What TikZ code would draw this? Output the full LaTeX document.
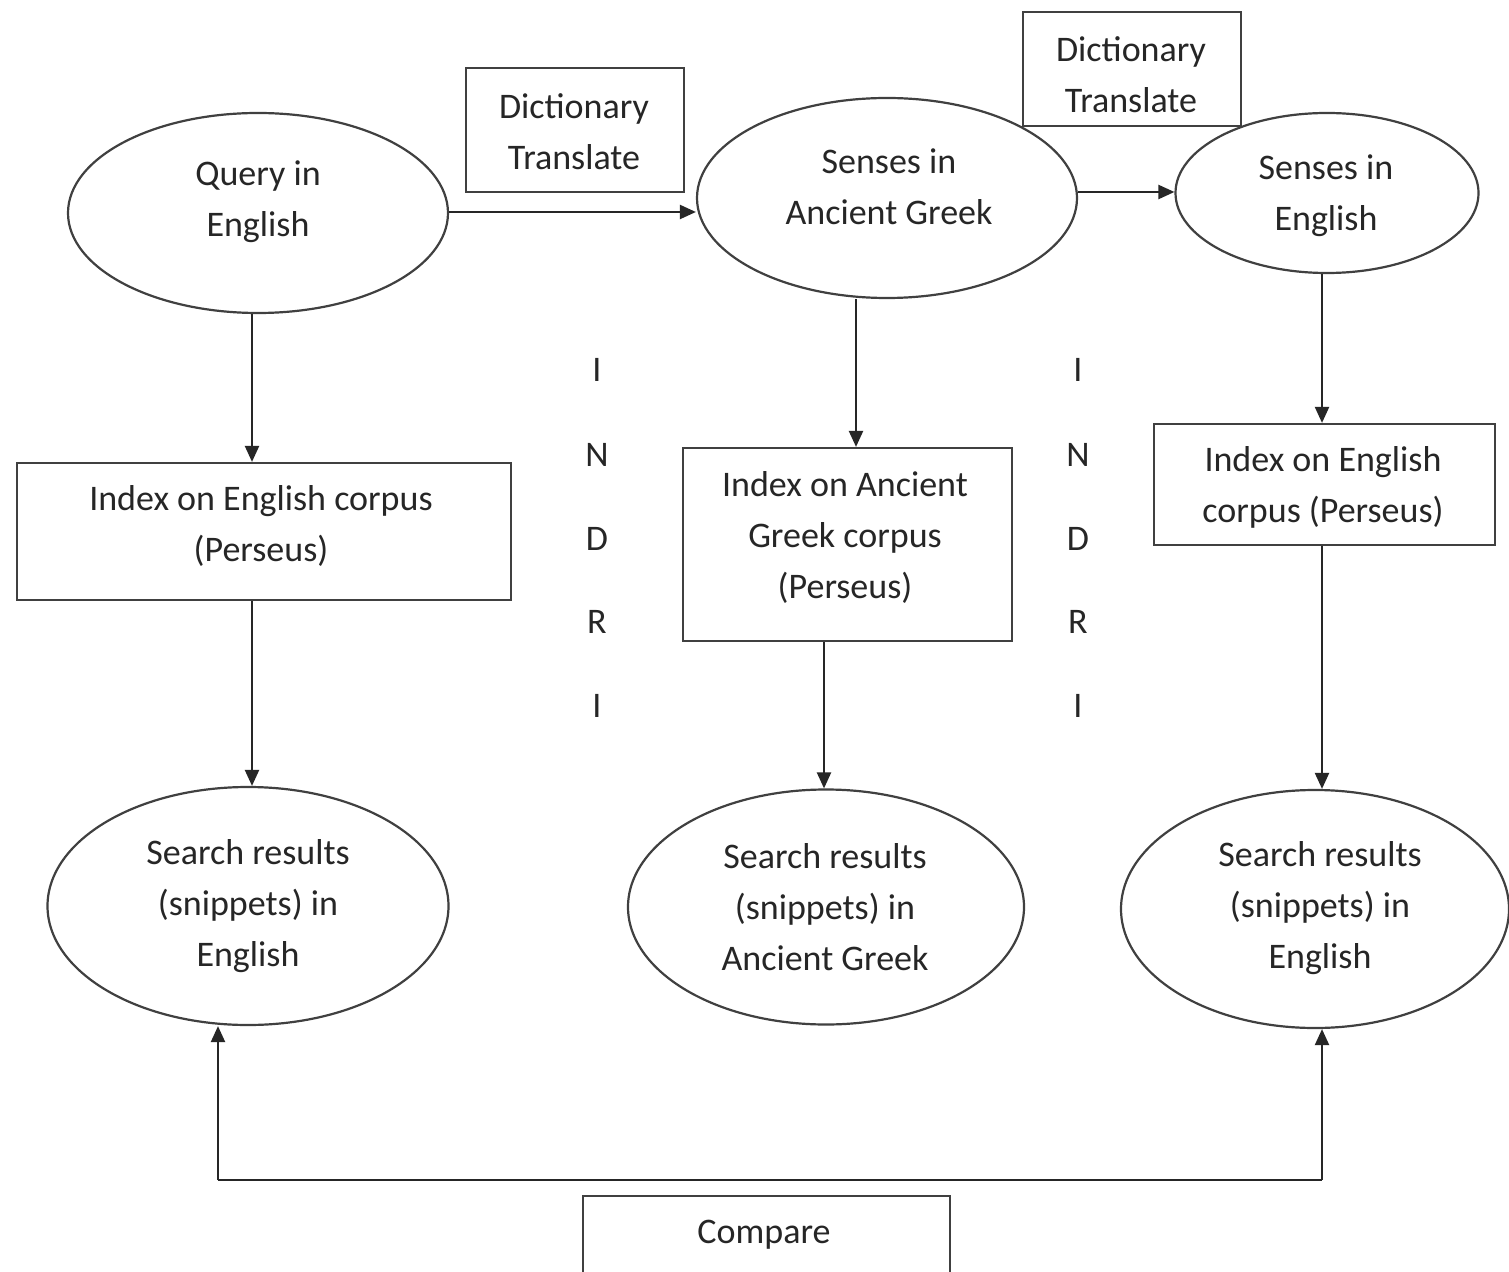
\documentclass[tikz,border=0pt]{standalone}
\usepackage{fontspec}
\setmainfont{Carlito}
\usetikzlibrary{shapes.geometric,arrows.meta}
\begin{document}
\begin{tikzpicture}[x=0.5pt,y=-0.5pt,
  every node/.style={inner sep=0pt},
  txt/.style={font=\fontsize{18}{25.5}\selectfont, align=center, text=black!85, yshift=-1.5pt},
  oval/.style={draw=black!75, line width=1.1pt, ellipse},
  box/.style={draw=black!75, line width=1.1pt, rectangle},
  arr/.style={draw=black!85, line width=1.1pt, -{Triangle[length=8pt,width=7pt]}},
  ln/.style={draw=black!85, line width=1.1pt},
  letter/.style={font=\fontsize{18}{20}\selectfont, text=black!85}]
\useasboundingbox (0,0) rectangle (1509,1272);
\clip (0,0) rectangle (1509,1272);
\fill[white] (0,0) rectangle (1509,1272);

% ellipses
\node[oval, minimum width=190pt, minimum height=100pt] (q) at (258,213) {};
\node[oval, minimum width=190pt, minimum height=100pt] (sg) at (887,198) {};
\node[oval, minimum width=151.5pt, minimum height=80pt] (se) at (1327,193) {};
\node[oval, minimum width=200.5pt, minimum height=119pt] (r1) at (248,906) {};
\node[oval, minimum width=198pt, minimum height=117.5pt] (r2) at (826,907) {};
\node[oval, minimum width=194pt, minimum height=119pt] (r3) at (1315,909) {};

% boxes
\node[box, minimum width=109pt, minimum height=62pt] (d1) at (575,130) {};
\node[box, minimum width=109pt, minimum height=57pt] (d2) at (1132,69) {};
\node[box, minimum width=247pt, minimum height=68.5pt] (i1) at (264,531.5) {};
\node[box, minimum width=164.5pt, minimum height=96.5pt] (i2) at (847.5,544.5) {};
\node[box, minimum width=170.5pt, minimum height=60.5pt] (i3) at (1324.5,484.5) {};
\node[box, minimum width=183.5pt, minimum height=50pt] (cmp) at (766.5,1246) {};

% texts
\node[txt] (tq) at (258,198.5) {Query in\\English};
\node[txt] (tsg) at (889,183.5) {Senses in\\Ancient Greek};
\node[txt] (tse) at (1326,192.5) {Senses in\\English};
\node[txt] (td1) at (574,128.5) {Dictionary\\Translate};
\node[txt] (td2) at (1131,71.5) {Dictionary\\Translate};
\node[txt] (ti1) at (261,523) {Index on English corpus\\(Perseus)};
\node[txt] (ti2) at (845,534.5) {Index on Ancient\\Greek corpus\\(Perseus)};
\node[txt] (ti3) at (1323,484.5) {Index on English\\corpus (Perseus)};
\node[txt] (tr1) at (248,903.5) {Search results\\(snippets) in\\English};
\node[txt] (tr2) at (825,904.5) {Search results\\(snippets) in\\Ancient Greek};
\node[txt] (tr3) at (1320,905.5) {Search results\\(snippets) in\\English};
\node[txt] (tcmp) at (764,1232) {Compare};

% INDRI
\foreach \x/\n in {597/a,1078/b}{
  \node[letter] (\n1) at (\x,370) {I};
  \node[letter] (\n2) at (\x,455) {N};
  \node[letter] (\n3) at (\x,539) {D};
  \node[letter] (\n4) at (\x,622) {R};
  \node[letter] (\n5) at (\x,706) {I};
}

% connectors
\draw[arr] (q.east |- 0,212) -- (sg.west |- 0,212);
\draw[arr] (sg.east |- 0,192) -- (se.west |- 0,192);
\draw[arr] (q.south -| 252,0) -- (i1.north -| 252,0);
\draw[arr] (i1.south -| 252,0) -- (r1.north -| 252,0);
\draw[arr] (sg.south -| 856,0) -- (i2.north -| 856,0);
\draw[arr] (i2.south -| 824,0) -- (r2.north -| 824,0);
\draw[arr] (se.south -| 1322,0) -- (i3.north -| 1322,0);
\draw[arr] (i3.south -| 1322,0) -- (r3.north -| 1322,0);

\coordinate (c1) at (218,1180);
\coordinate (c2) at (1322,1180);
\draw[ln] (c1) -- (c2);
\draw[arr] (c1) -- (r1.south -| c1);
\draw[arr] (c2) -- (r3.south -| c2);
\end{tikzpicture}
\end{document}
